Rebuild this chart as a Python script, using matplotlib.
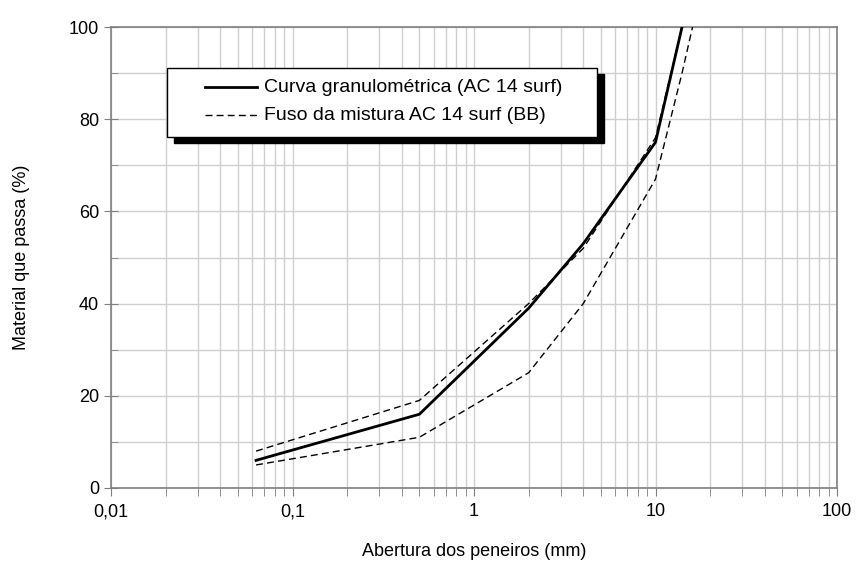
import matplotlib
matplotlib.use("Agg")
import matplotlib.pyplot as plt
from matplotlib.ticker import FixedLocator, FuncFormatter, MultipleLocator, LogLocator, NullFormatter
from matplotlib.patches import Rectangle

# sieve openings (mm) and percent passing
curve_x = [0.063, 0.5, 2, 4, 10, 14]
curve_y = [6, 16, 39, 53, 75, 100]

upper_x = [0.063, 0.5, 2, 4, 10, 14]
upper_y = [8, 19, 40, 52, 76, 100]

lower_x = [0.063, 0.5, 2, 4, 10, 14, 16]
lower_y = [5, 11, 25, 40, 67, 90, 100]

x_ticks = [0.01, 0.1, 1, 10, 100]
x_labels = ["0,01", "0,1", "1", "10", "100"]
labels = ["Curva granulométrica (AC 14 surf)", "Fuso da mistura AC 14 surf (BB)"]

plt.rcParams["font.family"] = ["Liberation Sans", "DejaVu Sans"]
plt.rcParams["font.size"] = 13

fig = plt.figure(figsize=(8.57, 5.61), dpi=100)
ax = fig.add_axes([111 / 857, 1 - 488 / 561, 726 / 857, 461 / 561])

ax.plot(curve_x, curve_y, color="black", lw=2, zorder=3)
ax.plot(upper_x, upper_y, color="black", lw=1, ls=(0, (5, 3)), zorder=3)
ax.plot(lower_x, lower_y, color="black", lw=1, ls=(0, (5, 3)), zorder=3)

ax.set_xscale("log")
ax.set_xlim(0.01, 100)
ax.set_ylim(0, 100)

ax.xaxis.set_major_locator(FixedLocator(x_ticks))
ax.xaxis.set_major_formatter(FuncFormatter(lambda v, p: x_labels[x_ticks.index(v)] if v in x_ticks else ""))
ax.xaxis.set_minor_locator(LogLocator(base=10, subs=range(2, 10), numticks=20))
ax.xaxis.set_minor_formatter(NullFormatter())
ax.yaxis.set_major_locator(MultipleLocator(20))
ax.yaxis.set_minor_locator(MultipleLocator(10))

ax.grid(True, which="both", color="#cfcfcf", lw=1)
ax.set_axisbelow(True)

for s in ax.spines.values():
    s.set_color("#7f7f7f")
    s.set_linewidth(1.2)

ax.tick_params(axis="x", which="both", direction="out", length=6, color="#7f7f7f", labelsize=13, pad=5)
ax.tick_params(axis="y", which="major", direction="inout", length=10, color="#7f7f7f", labelsize=13)
ax.tick_params(axis="y", which="minor", direction="in", length=5, color="#7f7f7f")

ax.set_xlabel("Abertura dos peneiros (mm)", fontsize=13, labelpad=16)
ax.set_ylabel("Material que passa (%)", fontsize=13, labelpad=28)

# legend box with a solid black shadow
bx0, by0, bw, bh = 0.0771, 0.761, 0.5923, 0.150
dx, dy = 7 / 726, -6 / 461
ax.add_patch(Rectangle((bx0 + dx, by0 + dy), bw, bh, transform=ax.transAxes,
                       facecolor="black", edgecolor="black", zorder=5))
ax.add_patch(Rectangle((bx0, by0), bw, bh, transform=ax.transAxes,
                       facecolor="white", edgecolor="black", lw=1, zorder=6))
hx0, hx1 = (205 - 111) / 726, (257 - 111) / 726
tx = (264 - 111) / 726
rows = [(488 - 87) / 461, (488 - 115) / 461]
ax.plot([hx0, hx1], [rows[0]] * 2, transform=ax.transAxes, color="black", lw=2, zorder=7, clip_on=False)
ax.plot([hx0, hx1], [rows[1]] * 2, transform=ax.transAxes, color="black", lw=1, ls=(0, (5, 3)), zorder=7, clip_on=False)
for r, lab in zip(rows, labels):
    ax.text(tx, r, lab, transform=ax.transAxes, va="center", ha="left", fontsize=14, zorder=7)

fig.savefig("out.png", dpi=100)
